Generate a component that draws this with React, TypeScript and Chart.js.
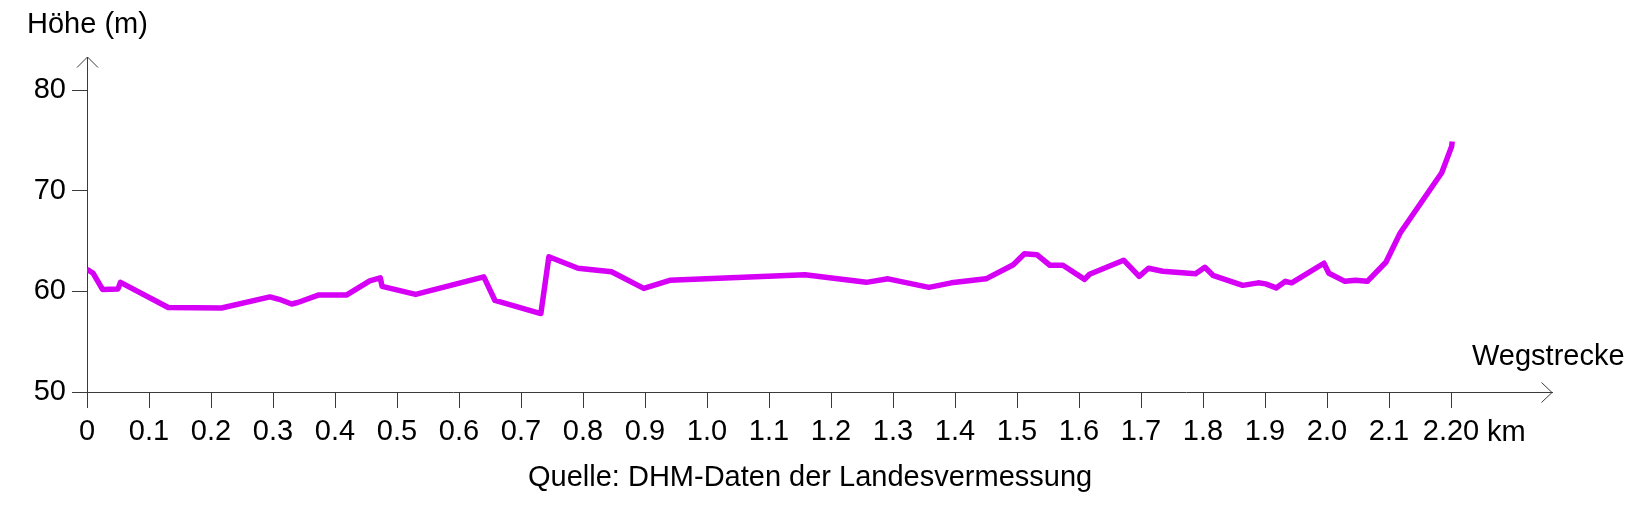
import React, { useEffect, useRef } from 'react';
import { Chart, registerables } from 'chart.js';

Chart.register(...registerables);

// Distance along the route (km) and elevation (m)
const distanceKm = [
  0.0, 0.01, 0.025, 0.05, 0.054, 0.131, 0.217, 0.295, 0.313, 0.33, 0.34, 0.374, 0.419, 0.456, 0.473, 0.476,
  0.53, 0.64, 0.658, 0.732, 0.745, 0.792, 0.846, 0.898, 0.94, 0.999, 1.158, 1.257, 1.292, 1.358, 1.394, 1.45,
  1.494, 1.512, 1.532, 1.553, 1.574, 1.609, 1.617, 1.672, 1.697, 1.712, 1.735, 1.788, 1.803, 1.816, 1.864,
  1.889, 1.901, 1.918, 1.933, 1.943, 1.995, 2.003, 2.029, 2.046, 2.065, 2.095, 2.118, 2.185, 2.193, 2.201, 2.202,
];
const heightM = [
  62.2, 61.8, 60.2, 60.25, 60.9, 58.4, 58.35, 59.45, 59.15, 58.75, 58.9, 59.65, 59.65, 61.05, 61.35, 60.5,
  59.7, 61.45, 59.1, 57.8, 63.45, 62.3, 61.95, 60.3, 61.1, 61.25, 61.65, 60.9, 61.25, 60.4, 60.85, 61.25,
  62.65, 63.75, 63.65, 62.6, 62.6, 61.2, 61.7, 63.1, 61.5, 62.3, 62.0, 61.75, 62.4, 61.6, 60.6,
  60.85, 60.75, 60.35, 61.0, 60.85, 62.8, 61.8, 61.0, 61.1, 61.0, 62.9, 65.8, 71.8, 73.1, 74.4, 74.9,
];

const xTickValues = [0, 0.1, 0.2, 0.3, 0.4, 0.5, 0.6, 0.7, 0.8, 0.9, 1.0, 1.1, 1.2, 1.3, 1.4, 1.5, 1.6, 1.7, 1.8, 1.9, 2.0, 2.1, 2.2];
const xTickLabels = ['0', '0.1', '0.2', '0.3', '0.4', '0.5', '0.6', '0.7', '0.8', '0.9', '1.0', '1.1', '1.2', '1.3', '1.4', '1.5', '1.6', '1.7', '1.8', '1.9', '2.0', '2.1', '2.20'];
const yTickValues = [50, 60, 70, 80];
const yTickLabels = ['50', '60', '70', '80'];

const xMin = 0;
const xMax = 2.3629;
const yMin = 50;
const yMax = 83.3;

const yAxisTitle = 'Höhe (m)';
const xAxisTitle = 'Wegstrecke';
const xUnit = 'km';
const sourceNote = 'Quelle: DHM-Daten der Landesvermessung';

const W = 1633;
const H = 511;
const FONT = '"Liberation Sans", Arial, Helvetica, sans-serif';
const FONT_SIZE = 29;
const LINE_COLOR = 'rgb(214, 0, 246)';
const AXIS_COLOR = '#3a3a3a';

export default function App() {
  const ref = useRef<HTMLCanvasElement>(null);

  useEffect(() => {
    const canvas = ref.current;
    if (!canvas) return;

    const overlay = {
      id: 'overlay',
      afterDraw(chart: any) {
        const { ctx, chartArea: a } = chart;
        ctx.save();
        ctx.strokeStyle = AXIS_COLOR;
        ctx.lineWidth = 1;
        const yx = Math.round(a.left) + 0.5;
        ctx.beginPath();
        ctx.moveTo(yx - 10.5, a.top + 10.5);
        ctx.lineTo(yx, a.top);
        ctx.lineTo(yx + 10.5, a.top + 10.5);
        ctx.stroke();
        const xy = Math.round(a.bottom) + 0.5;
        ctx.beginPath();
        ctx.moveTo(a.right - 10.5, xy - 10);
        ctx.lineTo(a.right, xy);
        ctx.lineTo(a.right - 10.5, xy + 10);
        ctx.stroke();

        ctx.fillStyle = '#000';
        ctx.font = `${FONT_SIZE}px ${FONT}`;
        ctx.textBaseline = 'alphabetic';
        ctx.textAlign = 'left';
        ctx.fillText(yAxisTitle, 27, 33);
        ctx.fillText(xAxisTitle, 1472, 365);
        ctx.fillText(xUnit, 1487, 441);
        ctx.fillText(sourceNote, 528, 486);
        ctx.restore();
      },
    };

    const points = distanceKm.map((x, i) => ({ x, y: heightM[i] }));

    const chart = new Chart(canvas, {
      type: 'line',
      data: {
        datasets: [
          {
            data: points,
            borderColor: LINE_COLOR,
            borderWidth: 5.5,
            pointRadius: 0,
            tension: 0,
            fill: false,
            borderJoinStyle: 'round',
          },
        ],
      },
      options: {
        responsive: false,
        animation: false,
        events: [],
        layout: { padding: { top: 57, right: 81, bottom: 0, left: 0 } },
        plugins: { legend: { display: false }, tooltip: { enabled: false } },
        scales: {
          x: {
            type: 'linear',
            min: xMin,
            max: xMax,
            afterBuildTicks: (scale: any) => {
              scale.ticks = xTickValues.map((v) => ({ value: v }));
            },
            afterFit: (scale: any) => {
              scale.height = H - 392;
            },
            ticks: {
              autoSkip: false,
              maxRotation: 0,
              padding: 7,
              color: '#000',
              font: { family: FONT, size: FONT_SIZE },
              callback: (_v: any, i: number) => xTickLabels[i],
            },
            grid: { drawOnChartArea: false, drawTicks: true, tickLength: 16, color: AXIS_COLOR, lineWidth: 1 },
            border: { display: true, color: AXIS_COLOR, width: 1 },
          },
          y: {
            type: 'linear',
            min: yMin,
            max: yMax,
            afterBuildTicks: (scale: any) => {
              scale.ticks = yTickValues.map((v) => ({ value: v }));
            },
            afterFit: (scale: any) => {
              scale.width = 87;
            },
            ticks: {
              autoSkip: false,
              padding: 6,
              color: '#000',
              font: { family: FONT, size: FONT_SIZE },
              callback: (_v: any, i: number) => yTickLabels[i],
            },
            grid: { drawOnChartArea: false, drawTicks: true, tickLength: 15, color: AXIS_COLOR, lineWidth: 1 },
            border: { display: true, color: AXIS_COLOR, width: 1 },
          },
        },
      },
      plugins: [overlay],
    });

    return () => chart.destroy();
  }, []);

  return (
    <div style={{ position: 'fixed', left: 0, top: 0, width: W, height: H, background: '#fff' }}>
      <canvas ref={ref} width={W} height={H} style={{ width: W, height: H, display: 'block' }} />
    </div>
  );
}
